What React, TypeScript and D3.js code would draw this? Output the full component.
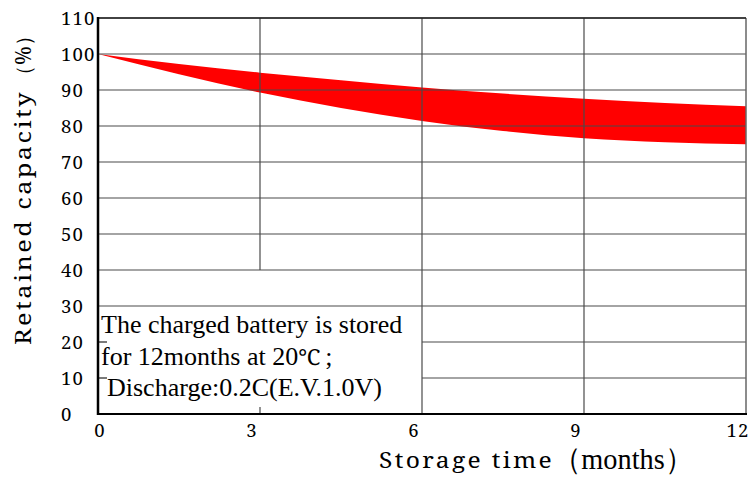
import * as d3 from "d3";
import React from "react";

// storage time (months) and retained capacity band (%)
const months = [0, 1.5, 3, 4.5, 6, 7.5, 9, 10.5, 12];
const upperCap = [100, 97.2, 94.8, 92.7, 90.7, 89.0, 87.6, 86.4, 85.5];
const lowerCap = [100, 94.4, 89.3, 85.0, 81.4, 78.6, 76.6, 75.5, 74.9];

const yTicks = [0, 10, 20, 30, 40, 50, 60, 70, 80, 90, 100, 110];
const xTicks = [0, 3, 6, 9, 12];

const W = 755;
const H = 480;
const left = 98, right = 746, top = 18, bottom = 414;

const App = () => {
  const x = d3.scaleLinear().domain([0, 12]).range([left, right]);
  const y = d3.scaleLinear().domain([0, 110]).range([bottom, top]);

  const band = months.map((m, i) => ({ m, hi: upperCap[i], lo: lowerCap[i] }));
  const area = d3.area<{ m: number; hi: number; lo: number }>()
    .x(d => x(d.m))
    .y0(d => y(d.lo))
    .y1(d => y(d.hi))
    .curve(d3.curveMonotoneX);

  const gridColor = "#4a4a4a";
  const tickFont = "Noto Serif";
  const timesFont = "Liberation Serif";

  return (
    <svg width={W} height={H} style={{ position: "absolute", left: 0, top: 0, background: "#fff" }}>
      <path d={area(band) || ""} fill="#ff0000" />

      {/* horizontal grid */}
      {yTicks.filter(t => t > 0).map(t => {
        const short = t === 10 || t === 20;
        return (
          <g key={"h" + t}>
            <line x1={short ? x(6) : left} x2={right} y1={y(t)} y2={y(t)} stroke={gridColor} strokeWidth={1.2} />
            {short && <line x1={left} x2={left + 9} y1={y(t)} y2={y(t)} stroke="#222" strokeWidth={1.2} />}
          </g>
        );
      })}

      {/* vertical grid */}
      <line x1={x(3)} x2={x(3)} y1={top} y2={y(40)} stroke={gridColor} strokeWidth={1.2} />
      <line x1={x(3)} x2={x(3)} y1={bottom - 7} y2={bottom} stroke={gridColor} strokeWidth={1.2} />
      {[6, 9].map(t => (
        <line key={"v" + t} x1={x(t)} x2={x(t)} y1={top} y2={bottom} stroke={gridColor} strokeWidth={1.2} />
      ))}
      <line x1={right} x2={right} y1={top} y2={bottom} stroke="#666" strokeWidth={1.5} />
      <line x1={left} x2={right} y1={top} y2={top} stroke="#222" strokeWidth={1.5} />

      {/* frame */}
      <line x1={left} x2={left} y1={top - 1} y2={bottom + 1} stroke="#000" strokeWidth={2.5} />
      <line x1={left} x2={right + 1} y1={bottom} y2={bottom} stroke="#000" strokeWidth={2} />

      {/* y tick labels */}
      {yTicks.map(t => (
        <text key={"yl" + t} x={61} y={y(t) + 7} fontFamily={tickFont} fontSize={18.5} letterSpacing={1.2} fill="#000">
          {t}
        </text>
      ))}

      {/* x tick labels */}
      {xTicks.map(t => (
        <text key={"xl" + t} x={x(t) + (t === 0 ? 2 : -8)} y={437} textAnchor="middle"
          fontFamily={tickFont} fontSize={18.5} letterSpacing={1.2} fill="#000">
          {t}
        </text>
      ))}

      {/* note */}
      <text x={101} y={333} fontFamily={timesFont} fontSize={26} fill="#000">
        The charged battery is stored
      </text>
      <text x={101} y={364.6} fontFamily={timesFont} fontSize={26} fill="#000">
        for 12months at 20<tspan fontFamily={tickFont} fontSize={22}>{"\u2103"}</tspan>
        <tspan dx={5}>;</tspan>
      </text>
      <text x={107} y={396.4} fontFamily={timesFont} fontSize={26} fill="#000">
        Discharge:0.2C(E.V.1.0V)
      </text>

      {/* axis titles */}
      <text x={379} y={468} fontFamily={tickFont} fontSize={21} letterSpacing={2} fill="#000"
        textLength={175} lengthAdjust="spacingAndGlyphs">
        Storage time
      </text>
      <text x={553} y={469} fontFamily={timesFont} fontSize={30} fill="#000"
        textLength={140} lengthAdjust="spacingAndGlyphs">
        {"\uFF08months\uFF09"}
      </text>
      <text transform={`translate(31, 345) rotate(-90)`} fontFamily={tickFont} fontSize={21} letterSpacing={2}
        fill="#000" textLength={255} lengthAdjust="spacingAndGlyphs">
        Retained capacity
      </text>
      <text transform={`translate(31, 86) rotate(-90)`} fontFamily={tickFont} fontSize={21} fill="#000">
        {"\uFF08%\uFF09"}
      </text>
    </svg>
  );
};

export default App;
